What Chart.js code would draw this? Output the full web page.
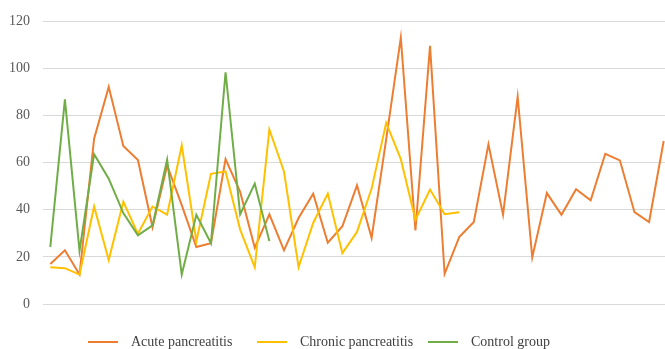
<!DOCTYPE html>
<html>
<head>
  <meta charset="UTF-8">
  <title>Pancreatitis groups</title>
  <style>
    html, body { margin: 0; padding: 0; background: #fff; overflow: hidden; }
    .wrapper { position: relative; width: 665px; height: 349px; overflow: hidden; }
    #chart { position: absolute; left: 0; top: 0; }
    .legend { position: absolute; top: 333px; left: 0; width: 665px; height: 18px;
              font-family: "Liberation Serif", "DejaVu Serif", serif; font-size: 14px; color: #404040; }
    .legend .item { position: absolute; top: 0; white-space: nowrap; line-height: 18px; }
    .legend .swatch { display: inline-block; width: 30px; height: 2px; vertical-align: middle; margin-right: 13px; margin-top: -2px; }
  </style>
</head>
<body>
  <div class="wrapper">
    <canvas id="chart" width="672" height="349"></canvas>
    <div class="legend" id="legend"></div>
  </div>

  <script src="https://cdn.jsdelivr.net/npm/chart.js@4"></script>
  <script>
    // case numbers along the x axis
    const cases = Array.from({ length: 43 }, (_, i) => String(i + 1));

    const seriesNames = ['Acute pancreatitis', 'Chronic pancreatitis', 'Control group'];
    const seriesColors = ['#ED7D31', '#FFC000', '#70AD47'];

    const acute = [17, 22.8, 12.5, 70.2, 92.2, 67.1, 61.1, 32.6, 58.8, 42, 24.2, 25.8, 61.5,
      47.6, 23.9, 38.1, 22.8, 36.5, 46.8, 26, 33, 50.4, 28.1, 70, 113.1, 31.2, 109.6, 12.8,
      28.4, 34.8, 67.8, 37.9, 88, 19.8, 47.1, 37.9, 48.7, 44, 63.8, 61, 39, 34.8, 69.2];
    const chronic = [15.6, 15.2, 12.5, 41.4, 18.7, 43.4, 29.8, 41.4, 37.9, 67.4, 26.7, 55.3, 56.3,
      31.6, 15.6, 74.1, 56.3, 15.6, 34.4, 46.9, 21.6, 30.6, 49, 76.9, 61.5, 35.8, 48.6, 38.1, 39];
    const control = [24.2, 86.9, 22.6, 63.6, 53.2, 38.6, 29.2, 33.4, 61.3, 12.5, 37.9, 25.8, 98.4,
      38.1, 51.1, 26.7];

    const yTicks = [0, 20, 40, 60, 80, 100, 120];

    // legend positions (left edge of each swatch)
    const legendX = [88, 257, 428];

    const seriesData = [acute, chronic, control];

    const ctx = document.getElementById('chart').getContext('2d');
    const chart = new Chart(ctx, {
      type: 'line',
      data: {
        labels: cases,
        datasets: seriesData.map((d, i) => ({
          label: seriesNames[i],
          data: d,
          borderColor: seriesColors[i],
          backgroundColor: seriesColors[i],
          borderWidth: 2,
          pointRadius: 0,
          tension: 0,
          fill: false,
          order: 3 - i   // later series drawn on top
        }))
      },
      options: {
        responsive: false,
        animation: false,
        layout: { padding: { top: 17, right: 1, bottom: 45, left: 0 } },
        scales: {
          x: {
            display: false,
            offset: true
          },
          y: {
            min: 0,
            max: 120,
            afterBuildTicks: (scale) => { scale.ticks = yTicks.map(v => ({ value: v })); },
            afterFit: (scale) => { scale.width = 43; },
            border: { display: false },
            grid: { color: '#d9d9d9', lineWidth: 1, drawTicks: false },
            ticks: {
              padding: 13,
              color: '#595959',
              font: { family: '"Liberation Serif", "DejaVu Serif", serif', size: 14 }
            }
          }
        },
        plugins: {
          legend: { display: false },
          tooltip: { enabled: false }
        }
      }
    });

    // legend row under the plot
    const legend = document.getElementById('legend');
    seriesNames.forEach((name, i) => {
      const item = document.createElement('div');
      item.className = 'item';
      item.style.left = legendX[i] + 'px';
      const sw = document.createElement('span');
      sw.className = 'swatch';
      sw.style.background = seriesColors[i];
      item.appendChild(sw);
      item.appendChild(document.createTextNode(name));
      legend.appendChild(item);
    });
  </script>
</body>
</html>
